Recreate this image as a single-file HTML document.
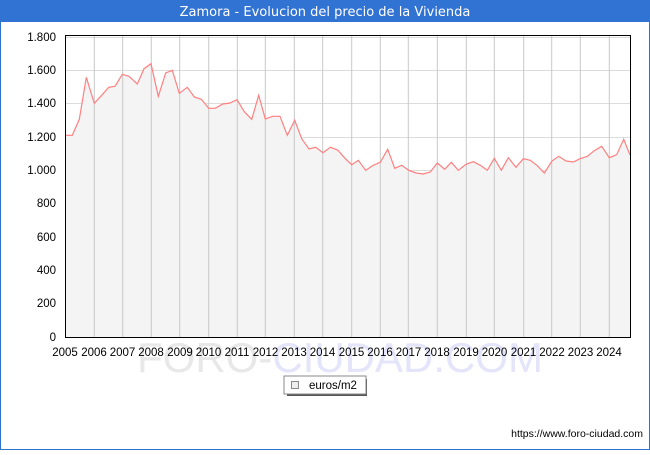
<!DOCTYPE html>
<html><head><meta charset="utf-8"><style>
body{margin:0;width:650px;height:450px;overflow:hidden;font-family:"Liberation Sans","DejaVu Sans",sans-serif;}
</style></head><body>
<svg width="650" height="450" xmlns="http://www.w3.org/2000/svg" font-family="Liberation Sans, DejaVu Sans, sans-serif">
<rect x="0" y="0" width="650" height="450" fill="#fff"/>
<rect x="0.5" y="0.5" width="649" height="449" fill="none" stroke="#3173d3"/>
<rect x="0" y="0" width="650" height="22" fill="#3173d3"/>
<text x="325" y="16" fill="#fff" font-size="13" font-family="DejaVu Sans, sans-serif" text-anchor="middle">Zamora - Evolucion del precio de la Vivienda</text>
<text x="340" y="372" fill="#e8e8e8" font-size="42" text-anchor="middle">FORO-<tspan fill="#e4e4fa">CIUDAD.COM</tspan></text>
<g stroke="#dcdcdc" stroke-width="1">
<line x1="65" x2="630" y1="37.5" y2="37.5"/><line x1="65" x2="630" y1="70.5" y2="70.5"/><line x1="65" x2="630" y1="103.5" y2="103.5"/><line x1="65" x2="630" y1="137.5" y2="137.5"/><line x1="65" x2="630" y1="170.5" y2="170.5"/><line x1="65" x2="630" y1="203.5" y2="203.5"/><line x1="65" x2="630" y1="237.5" y2="237.5"/><line x1="65" x2="630" y1="270.5" y2="270.5"/><line x1="65" x2="630" y1="303.5" y2="303.5"/>
</g>
<polygon fill="#f4f4f4" points="65,337 65,135.3 72.3,135.3 79.3,119.3 86.3,77.3 94.3,103.3 101.3,95.7 108.7,87.3 115,86.3 122.3,74.3 129,76.3 137.3,84 144,68.7 151,63.7 158.3,96.3 165.7,73 172.3,70.3 179.3,93.3 187.3,87.3 194.3,97 201.3,99.3 208.7,108.3 215.3,108.3 222.7,104 230,103 237,99.7 244.3,111.7 251.7,119.3 258.7,95.3 265.3,119 272.7,116.3 280,116.3 287.3,135.3 294.7,120.3 301.7,138.7 309,149 315.7,147.3 323,152.7 330.3,147.3 337.7,150 345,158.3 351.7,164.7 358.3,160.3 365.7,170.3 373.3,165.3 380.3,162.3 387.7,149.3 394.7,168.3 401.7,165.3 408.7,170.3 416,173 423.3,174 430.3,172 437.3,163 444.7,169.3 451.3,162.3 458.3,170.3 466,164.3 473.3,161.7 480.3,165.3 487.3,170.3 494.3,158.3 501.3,170.3 508.3,157.7 516,167.3 523.3,158.7 530.3,160.3 537.3,165.7 544.3,173 552,161 558.7,156.3 566,161 573.3,162 580,158.7 587.3,156.3 594.3,150.7 601.7,146.3 609.3,157.7 616.7,154.7 623.7,139.3 630,155 630,337"/>
<g stroke="#c8c8c8" stroke-width="1">
<line x1="94.3" x2="94.3" y1="35" y2="337"/><line x1="122.7" x2="122.7" y1="35" y2="337"/><line x1="151.3" x2="151.3" y1="35" y2="337"/><line x1="179.7" x2="179.7" y1="35" y2="337"/><line x1="208.7" x2="208.7" y1="35" y2="337"/><line x1="237.3" x2="237.3" y1="35" y2="337"/><line x1="265.3" x2="265.3" y1="35" y2="337"/><line x1="294.3" x2="294.3" y1="35" y2="337"/><line x1="322.7" x2="322.7" y1="35" y2="337"/><line x1="351.7" x2="351.7" y1="35" y2="337"/><line x1="380.3" x2="380.3" y1="35" y2="337"/><line x1="408.3" x2="408.3" y1="35" y2="337"/><line x1="437.3" x2="437.3" y1="35" y2="337"/><line x1="466.3" x2="466.3" y1="35" y2="337"/><line x1="494.3" x2="494.3" y1="35" y2="337"/><line x1="523.7" x2="523.7" y1="35" y2="337"/><line x1="551.7" x2="551.7" y1="35" y2="337"/><line x1="580.3" x2="580.3" y1="35" y2="337"/><line x1="609.3" x2="609.3" y1="35" y2="337"/>
</g>
<polyline fill="none" stroke="#ff8080" stroke-width="1.2" points="65,135.3 72.3,135.3 79.3,119.3 86.3,77.3 94.3,103.3 101.3,95.7 108.7,87.3 115,86.3 122.3,74.3 129,76.3 137.3,84 144,68.7 151,63.7 158.3,96.3 165.7,73 172.3,70.3 179.3,93.3 187.3,87.3 194.3,97 201.3,99.3 208.7,108.3 215.3,108.3 222.7,104 230,103 237,99.7 244.3,111.7 251.7,119.3 258.7,95.3 265.3,119 272.7,116.3 280,116.3 287.3,135.3 294.7,120.3 301.7,138.7 309,149 315.7,147.3 323,152.7 330.3,147.3 337.7,150 345,158.3 351.7,164.7 358.3,160.3 365.7,170.3 373.3,165.3 380.3,162.3 387.7,149.3 394.7,168.3 401.7,165.3 408.7,170.3 416,173 423.3,174 430.3,172 437.3,163 444.7,169.3 451.3,162.3 458.3,170.3 466,164.3 473.3,161.7 480.3,165.3 487.3,170.3 494.3,158.3 501.3,170.3 508.3,157.7 516,167.3 523.3,158.7 530.3,160.3 537.3,165.7 544.3,173 552,161 558.7,156.3 566,161 573.3,162 580,158.7 587.3,156.3 594.3,150.7 601.7,146.3 609.3,157.7 616.7,154.7 623.7,139.3 630,155"/>
<rect x="65.5" y="35.5" width="565" height="302" fill="none" stroke="#000" stroke-width="1"/>
<g font-size="11.5" fill="#000" text-anchor="end">
<text x="56" y="41">1.800</text><text x="56" y="74">1.600</text><text x="56" y="107">1.400</text><text x="56" y="141">1.200</text><text x="56" y="174">1.000</text><text x="56" y="207">800</text><text x="56" y="241">600</text><text x="56" y="274">400</text><text x="56" y="307">200</text><text x="56" y="341">0</text>
</g>
<g font-size="11.5" fill="#000" text-anchor="middle">
<text x="65" y="356">2005</text><text x="94" y="356">2006</text><text x="122.5" y="356">2007</text><text x="151" y="356">2008</text><text x="180" y="356">2009</text><text x="208.5" y="356">2010</text><text x="237" y="356">2011</text><text x="265.5" y="356">2012</text><text x="294" y="356">2013</text><text x="322.5" y="356">2014</text><text x="351.5" y="356">2015</text><text x="380" y="356">2016</text><text x="408.5" y="356">2017</text><text x="437" y="356">2018</text><text x="466" y="356">2019</text><text x="494.5" y="356">2020</text><text x="523.5" y="356">2021</text><text x="552" y="356">2022</text><text x="580.5" y="356">2023</text><text x="609" y="356">2024</text>
</g>
<rect x="287" y="379" width="80" height="17" fill="#555"/>
<rect x="284" y="376" width="82" height="18" fill="#fff" stroke="#888"/>
<rect x="291.5" y="381.5" width="7" height="7" fill="#eee" stroke="#888"/>
<text x="309" y="389" font-size="11.5">euros/m2</text>
<text x="643" y="437" font-size="10.5" text-anchor="end">https://www.foro-ciudad.com</text>
</svg>
</body></html>
